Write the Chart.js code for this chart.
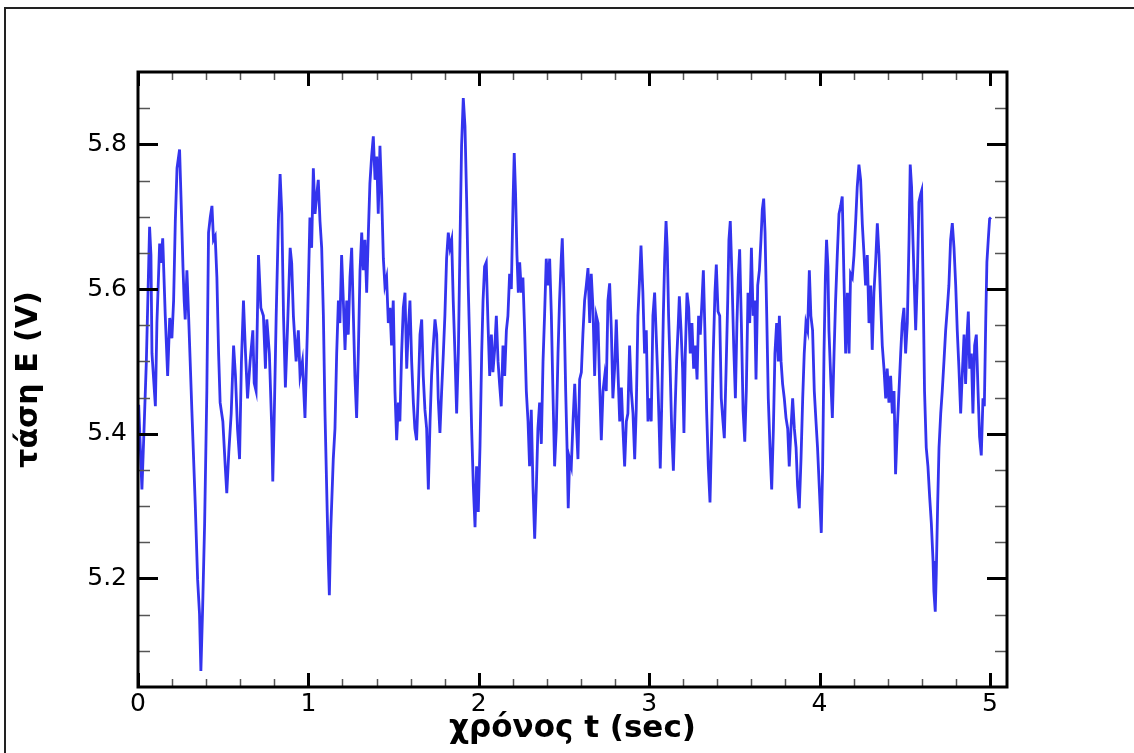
<!DOCTYPE html>
<html>
<head>
<meta charset="utf-8">
<title>τάση E - χρόνος t</title>
<script src="https://cdn.jsdelivr.net/npm/chart.js@4"></script>
<style>
  html, body { margin: 0; padding: 0; background: #fff; }
  canvas { display: block; }
</style>
</head>
<body>
<canvas id="chart" width="1134" height="753"></canvas>
<script>
// time axis (sec)
const tSec = [
  0.004, 0.023, 0.037, 0.049, 0.068, 0.076, 0.082, 0.102, 0.111, 0.127, 0.135, 0.145, 0.16, 0.174, 0.186, 0.199,
  0.209, 0.219, 0.229, 0.244, 0.252, 0.264, 0.271, 0.277, 0.287, 0.297, 0.316, 0.336, 0.35, 0.361, 0.369, 0.379,
  0.391, 0.404, 0.414, 0.424, 0.434, 0.443, 0.453, 0.463, 0.473, 0.482, 0.498, 0.512, 0.521, 0.533, 0.547, 0.561,
  0.572, 0.584, 0.596, 0.607, 0.619, 0.631, 0.643, 0.658, 0.674, 0.682, 0.693, 0.707, 0.721, 0.736, 0.748, 0.756,
  0.771, 0.785, 0.791, 0.799, 0.811, 0.824, 0.834, 0.844, 0.854, 0.865, 0.877, 0.893, 0.902, 0.912, 0.928, 0.941,
  0.951, 0.965, 0.98, 0.994,
  1.009, 1.019, 1.029, 1.039, 1.049, 1.058, 1.068, 1.078, 1.088, 1.097, 1.107, 1.117, 1.123, 1.131, 1.146, 1.156,
  1.166, 1.176, 1.185, 1.195, 1.205, 1.215, 1.225, 1.234, 1.244, 1.254, 1.264, 1.273, 1.283, 1.293, 1.303, 1.313,
  1.322, 1.332, 1.342, 1.352, 1.361, 1.371, 1.381, 1.391, 1.401, 1.41, 1.42, 1.43, 1.44, 1.449, 1.459, 1.469,
  1.479, 1.488, 1.498, 1.508, 1.518, 1.528, 1.537, 1.547, 1.557, 1.567, 1.577, 1.586, 1.596, 1.606, 1.616, 1.625,
  1.635, 1.645, 1.655, 1.665, 1.674, 1.684, 1.694, 1.704, 1.714, 1.723, 1.733, 1.743, 1.753, 1.762, 1.772, 1.782,
  1.792, 1.801, 1.811, 1.821, 1.831, 1.841, 1.85, 1.86, 1.87, 1.88, 1.89, 1.899, 1.909, 1.919, 1.929, 1.938,
  1.948, 1.958, 1.968, 1.978, 1.987, 1.997, 2.007, 2.017,
  2.025, 2.034, 2.044, 2.054, 2.064, 2.074, 2.083, 2.093, 2.103, 2.113, 2.122, 2.132, 2.142, 2.152, 2.162, 2.171,
  2.181, 2.191, 2.201, 2.208, 2.216, 2.224, 2.232, 2.24, 2.25, 2.259, 2.269, 2.279, 2.289, 2.298, 2.308, 2.318,
  2.328, 2.338, 2.347, 2.357, 2.367, 2.377, 2.386, 2.396, 2.406, 2.416, 2.426, 2.435, 2.445, 2.455, 2.465, 2.474,
  2.484, 2.49, 2.498, 2.51, 2.518, 2.525, 2.533, 2.543, 2.553, 2.563, 2.572, 2.582, 2.592, 2.602, 2.611, 2.621,
  2.631, 2.641, 2.651, 2.66, 2.67, 2.68, 2.69, 2.7, 2.709, 2.719, 2.729, 2.739, 2.748, 2.758, 2.768, 2.778,
  2.787, 2.797, 2.807, 2.817, 2.827, 2.837, 2.846, 2.856, 2.866, 2.875, 2.885, 2.895, 2.905, 2.915, 2.924, 2.934,
  2.944, 2.952, 2.963, 2.973, 2.983, 2.993, 3.002, 3.012, 3.022, 3.032,
  3.05, 3.059, 3.065, 3.073, 3.083, 3.091, 3.099, 3.106, 3.114, 3.122, 3.132, 3.142, 3.152, 3.161, 3.171, 3.177,
  3.187, 3.196, 3.204, 3.212, 3.222, 3.232, 3.241, 3.251, 3.261, 3.271, 3.281, 3.29, 3.3, 3.31, 3.318, 3.327,
  3.337, 3.347, 3.357, 3.367, 3.376, 3.386, 3.394, 3.404, 3.414, 3.423, 3.433, 3.441, 3.451, 3.461, 3.468, 3.476,
  3.486, 3.496, 3.506, 3.515, 3.523, 3.531, 3.541, 3.551, 3.561, 3.57, 3.58, 3.59, 3.6, 3.61, 3.619, 3.627,
  3.637, 3.647, 3.656, 3.664, 3.672, 3.68, 3.69, 3.699, 3.709, 3.719, 3.729, 3.738, 3.748, 3.758, 3.764, 3.774,
  3.783, 3.793, 3.803, 3.813, 3.822, 3.832, 3.842, 3.852, 3.862, 3.871, 3.881, 3.891, 3.901, 3.91, 3.92, 3.93,
  3.94, 3.949, 3.959, 3.969, 3.979, 3.988, 3.998, 4.01, 4.018, 4.026, 4.034, 4.041, 4.049,
  4.055, 4.065, 4.075, 4.085, 4.094, 4.104, 4.114, 4.124, 4.133, 4.143, 4.153, 4.163, 4.173, 4.182, 4.192, 4.202,
  4.212, 4.221, 4.231, 4.241, 4.251, 4.261, 4.27, 4.28, 4.29, 4.3, 4.309, 4.319, 4.329, 4.339, 4.349, 4.358,
  4.368, 4.378, 4.388, 4.397, 4.407, 4.417, 4.427, 4.437, 4.446, 4.456, 4.466, 4.476, 4.485, 4.495, 4.505, 4.515,
  4.525, 4.532, 4.54, 4.548, 4.556, 4.564, 4.574, 4.583, 4.593, 4.599, 4.607, 4.616, 4.626, 4.636, 4.646, 4.656,
  4.666, 4.671, 4.679, 4.685, 4.693, 4.701, 4.711, 4.72, 4.73, 4.74, 4.75, 4.759, 4.769, 4.779, 4.789, 4.799,
  4.808, 4.818, 4.828, 4.838, 4.848, 4.857, 4.867, 4.873, 4.881, 4.891, 4.9, 4.91, 4.92, 4.93, 4.939, 4.949,
  4.959, 4.967, 4.975, 4.982, 4.99, 4.998, 5.006
];

// voltage E (V)
const eVolt = [
  5.44, 5.323, 5.417, 5.5, 5.686, 5.647, 5.511, 5.438, 5.553, 5.663, 5.636, 5.67, 5.563, 5.48, 5.56, 5.532,
  5.584, 5.694, 5.767, 5.793, 5.73, 5.63, 5.584, 5.558, 5.626, 5.563, 5.433, 5.302, 5.198, 5.151, 5.072, 5.156,
  5.276, 5.459, 5.678, 5.699, 5.715, 5.668, 5.673, 5.616, 5.511, 5.443, 5.417, 5.355, 5.318, 5.375, 5.428, 5.522,
  5.48, 5.407, 5.365, 5.5, 5.584, 5.511, 5.449, 5.5, 5.543, 5.47, 5.459, 5.647, 5.574, 5.563, 5.49, 5.558,
  5.511, 5.407, 5.334, 5.417, 5.563, 5.694, 5.759, 5.704, 5.563, 5.464, 5.543, 5.657, 5.636, 5.563, 5.5, 5.543,
  5.48, 5.5, 5.422, 5.543,
  5.699, 5.657, 5.767, 5.704, 5.73, 5.751, 5.694, 5.657, 5.563, 5.433, 5.328, 5.224, 5.177, 5.266, 5.365, 5.407,
  5.511, 5.584, 5.553, 5.647, 5.584, 5.516, 5.584, 5.537, 5.616, 5.657, 5.563, 5.48, 5.422, 5.511, 5.626, 5.678,
  5.626, 5.668, 5.595, 5.678, 5.746, 5.783, 5.811, 5.751, 5.783, 5.704, 5.798, 5.73, 5.642, 5.605, 5.616, 5.553,
  5.574, 5.522, 5.584, 5.459, 5.391, 5.443, 5.417, 5.511, 5.574, 5.595, 5.49, 5.543, 5.584, 5.5, 5.443, 5.407,
  5.391, 5.459, 5.537, 5.558, 5.48, 5.433, 5.407, 5.323, 5.417, 5.48, 5.522, 5.558, 5.537, 5.449, 5.401, 5.459,
  5.511, 5.563, 5.642, 5.678, 5.657, 5.668, 5.584, 5.511, 5.428, 5.511, 5.668, 5.798, 5.864, 5.825, 5.72, 5.605,
  5.511, 5.407, 5.328, 5.271, 5.355, 5.292, 5.381, 5.511,
  5.584, 5.631, 5.637, 5.553, 5.48, 5.537, 5.485, 5.516, 5.563, 5.5, 5.469, 5.438, 5.522, 5.48, 5.543, 5.563,
  5.621, 5.6, 5.72, 5.788, 5.731, 5.647, 5.595, 5.637, 5.595, 5.616, 5.543, 5.459, 5.417, 5.355, 5.433, 5.328,
  5.255, 5.328, 5.407, 5.443, 5.386, 5.5, 5.563, 5.642, 5.605, 5.642, 5.563, 5.459, 5.355, 5.407, 5.511, 5.584,
  5.642, 5.67, 5.605, 5.459, 5.381, 5.297, 5.365, 5.355, 5.417, 5.469, 5.417, 5.365, 5.475, 5.485, 5.537, 5.584,
  5.605, 5.629, 5.553, 5.621, 5.574, 5.48, 5.563, 5.553, 5.469, 5.391, 5.459, 5.48, 5.459, 5.584, 5.608, 5.543,
  5.449, 5.49, 5.558, 5.485, 5.417, 5.464, 5.407, 5.355, 5.417, 5.428, 5.522, 5.459, 5.428, 5.365, 5.433, 5.563,
  5.616, 5.66, 5.595, 5.511, 5.543, 5.417, 5.449, 5.417, 5.563, 5.595,
  5.48, 5.407, 5.352, 5.433, 5.563, 5.642, 5.694, 5.657, 5.563, 5.5, 5.407, 5.349, 5.433, 5.5, 5.553, 5.59,
  5.543, 5.49, 5.401, 5.511, 5.595, 5.574, 5.511, 5.553, 5.49, 5.522, 5.475, 5.563, 5.537, 5.584, 5.626, 5.543,
  5.433, 5.355, 5.305, 5.407, 5.511, 5.595, 5.634, 5.569, 5.563, 5.449, 5.417, 5.394, 5.485, 5.584, 5.668, 5.694,
  5.616, 5.522, 5.449, 5.553, 5.616, 5.655, 5.553, 5.433, 5.389, 5.459, 5.595, 5.553, 5.657, 5.563, 5.584, 5.475,
  5.605, 5.626, 5.668, 5.71, 5.725, 5.678, 5.563, 5.449, 5.381, 5.323, 5.407, 5.511, 5.553, 5.5, 5.563, 5.5,
  5.469, 5.449, 5.422, 5.407, 5.355, 5.407, 5.449, 5.407, 5.381, 5.328, 5.297, 5.365, 5.449, 5.511, 5.553, 5.543,
  5.626, 5.563, 5.543, 5.459, 5.417, 5.381, 5.328, 5.263, 5.355, 5.511, 5.616, 5.668, 5.631,
  5.543, 5.48, 5.422, 5.511, 5.584, 5.647, 5.704, 5.715, 5.728, 5.616, 5.511, 5.595, 5.511, 5.621, 5.616, 5.647,
  5.694, 5.741, 5.772, 5.751, 5.689, 5.647, 5.605, 5.647, 5.553, 5.605, 5.516, 5.595, 5.637, 5.691, 5.647, 5.584,
  5.522, 5.49, 5.449, 5.49, 5.443, 5.48, 5.428, 5.459, 5.344, 5.407, 5.459, 5.511, 5.553, 5.574, 5.511, 5.553,
  5.668, 5.772, 5.741, 5.668, 5.605, 5.543, 5.616, 5.72, 5.731, 5.736, 5.616, 5.459, 5.381, 5.355, 5.313, 5.276,
  5.224, 5.182, 5.154, 5.208, 5.302, 5.381, 5.428, 5.459, 5.5, 5.543, 5.574, 5.605, 5.668, 5.691, 5.657, 5.605,
  5.543, 5.49, 5.428, 5.485, 5.537, 5.469, 5.543, 5.569, 5.49, 5.511, 5.428, 5.522, 5.537, 5.459, 5.396, 5.37,
  5.449, 5.438, 5.553, 5.637, 5.668, 5.697, 5.699
];

const xMajorTicks = [0, 1, 2, 3, 4, 5];
const xMinorTicks = [0.2, 0.4, 0.6, 0.8, 1.2, 1.4, 1.6, 1.8, 2.2, 2.4, 2.6, 2.8, 3.2, 3.4, 3.6, 3.8, 4.2, 4.4, 4.6, 4.8];
const yMajorTicks = [5.2, 5.4, 5.6, 5.8];
const yMinorTicks = [5.1, 5.15, 5.25, 5.3, 5.35, 5.45, 5.5, 5.55, 5.65, 5.7, 5.75, 5.85];

const xLabel = 'χρόνος t (sec)';
const yLabel = 'τάση E (V)';

const points = tSec.map((t, i) => ({ x: t, y: eVolt[i] }));

const FONT = "'DejaVu Sans', 'Liberation Sans', Arial, sans-serif";

// inward ticks on all four sides, plot frame and the outer figure frame
const frameTicks = {
  id: 'frameTicks',
  afterDatasetsDraw(chart) {
    const { ctx, chartArea: a, scales: { x, y } } = chart;
    ctx.save();

    const line = (x1, y1, x2, y2, w, color) => {
      ctx.strokeStyle = color;
      ctx.lineWidth = w;
      ctx.beginPath();
      ctx.moveTo(x1, y1);
      ctx.lineTo(x2, y2);
      ctx.stroke();
    };

    xMinorTicks.forEach((v) => {
      const px = Math.round(x.getPixelForValue(v)) + 0.5;
      line(px, a.bottom, px, a.bottom - 8, 1.5, '#555');
      line(px, a.top, px, a.top + 8, 1.5, '#555');
    });
    xMajorTicks.forEach((v) => {
      const px = Math.round(x.getPixelForValue(v)) + 0.5;
      line(px, a.bottom, px, a.bottom - 14, 3, '#000');
      line(px, a.top, px, a.top + 14, 3, '#000');
    });
    yMinorTicks.forEach((v) => {
      const py = Math.round(y.getPixelForValue(v)) + 0.5;
      line(a.left, py, a.left + 12, py, 1.5, '#555');
      line(a.right, py, a.right - 12, py, 1.5, '#555');
    });
    yMajorTicks.forEach((v) => {
      const py = Math.round(y.getPixelForValue(v)) + 0.5;
      line(a.left, py, a.left + 20, py, 3, '#000');
      line(a.right, py, a.right - 20, py, 3, '#000');
    });

    ctx.strokeStyle = '#000';
    ctx.lineWidth = 3;
    ctx.strokeRect(a.left, a.top, a.right - a.left, a.bottom - a.top);

    // outer frame of the figure
    ctx.strokeStyle = '#222';
    ctx.lineWidth = 2;
    ctx.beginPath();
    ctx.moveTo(5, chart.height);
    ctx.lineTo(5, 8);
    ctx.lineTo(chart.width, 8);
    ctx.stroke();

    ctx.restore();
  },
};

new Chart(document.getElementById('chart'), {
  type: 'line',
  data: {
    datasets: [
      {
        data: points,
        borderColor: '#3434ee',
        borderWidth: 2.8,
        pointRadius: 0,
        tension: 0,
        fill: false,
      },
    ],
  },
  options: {
    responsive: false,
    animation: false,
    events: [],
    layout: { padding: { top: 72, right: 127, left: 0, bottom: 0 } },
    plugins: { legend: { display: false }, tooltip: { enabled: false } },
    scales: {
      x: {
        type: 'linear',
        min: 0,
        max: 5.1,
        grid: { display: false, drawTicks: false },
        border: { display: false },
        afterBuildTicks: (scale) => { scale.ticks = xMajorTicks.map((v) => ({ value: v })); },
        afterFit: (scale) => { scale.height = 66; },
        ticks: {
          color: '#000',
          padding: 2,
          maxRotation: 0,
          autoSkip: false,
          font: { family: FONT, size: 25 },
          callback: (v) => String(v),
        },
        title: {
          display: true,
          text: xLabel,
          color: '#000',
          padding: { top: 0, bottom: 5 },
          font: { family: FONT, size: 31, weight: 'bold' },
        },
      },
      y: {
        type: 'linear',
        min: 5.05,
        max: 5.9,
        grid: { display: false, drawTicks: false },
        border: { display: false },
        afterBuildTicks: (scale) => { scale.ticks = yMajorTicks.map((v) => ({ value: v })); },
        afterFit: (scale) => { scale.width = 138; },
        ticks: {
          color: '#000',
          padding: 11,
          autoSkip: false,
          font: { family: FONT, size: 25 },
          callback: (v) => v.toFixed(1),
        },
        title: {
          display: true,
          text: yLabel,
          color: '#000',
          padding: { top: 11, bottom: 0 },
          font: { family: FONT, size: 30, weight: 'bold' },
        },
      },
    },
  },
  plugins: [frameTicks],
});
</script>
</body>
</html>
